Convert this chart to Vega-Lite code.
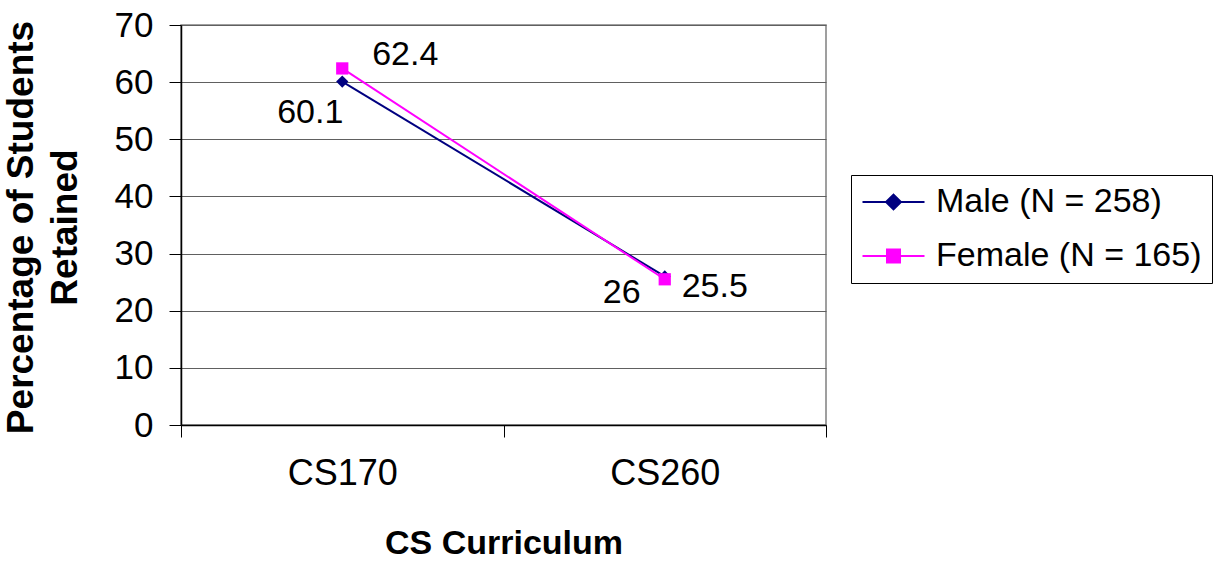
{
  "$schema": "https://vega.github.io/schema/vega-lite/v6.json",
  "width": 645,
  "height": 400,
  "autosize": {"type": "none"},
  "padding": {"left": 181, "top": 25, "right": 391, "bottom": 136},
  "background": "white",
  "config": {
    "font": "Liberation Sans",
    "view": {"stroke": "#808080", "strokeWidth": 1.5}
  },
  "data": {
    "values": [
      {"course": "CS170", "group": "Male (N = 258)", "pct": 60.1},
      {"course": "CS260", "group": "Male (N = 258)", "pct": 26},
      {"course": "CS170", "group": "Female (N = 165)", "pct": 62.4},
      {"course": "CS260", "group": "Female (N = 165)", "pct": 25.5}
    ]
  },
  "encoding": {
    "x": {
      "field": "course",
      "type": "nominal",
      "scale": {"type": "band", "paddingInner": 0, "paddingOuter": 0},
      "axis": {
        "title": "CS Curriculum",
        "titleFontSize": 34,
        "titleFontWeight": "bold",
        "titleColor": "black",
        "titleBaseline": "alphabetic",
        "titleY": 128,
        "labelFontSize": 36,
        "labelColor": "black",
        "labelAngle": 0,
        "labelPadding": 19,
        "tickBand": "extent",
        "tickSize": 12,
        "tickColor": "black",
        "domainColor": "black",
        "domainWidth": 1.5,
        "grid": false
      }
    },
    "y": {
      "field": "pct",
      "type": "quantitative",
      "scale": {"domain": [0, 70], "nice": false, "zero": true},
      "axis": {
        "values": [0, 10, 20, 30, 40, 50, 60, 70],
        "title": ["Percentage of Students", "Retained"],
        "titleFontSize": 37,
        "titleFontWeight": "bold",
        "titleColor": "black",
        "titleLineHeight": 44,
        "titleAngle": -90,
        "titleBaseline": "top",
        "titleAlign": "center",
        "titleX": -178,
        "titleY": 202,
        "labelFontSize": 35,
        "labelColor": "black",
        "labelPadding": 16,
        "tickSize": 12,
        "tickColor": "black",
        "domainColor": "black",
        "domainWidth": 1.5,
        "grid": true,
        "gridColor": "#606060",
        "gridWidth": 1.2
      }
    }
  },
  "layer": [
    {
      "mark": {"type": "line", "strokeWidth": 2},
      "encoding": {
        "color": {
          "field": "group",
          "type": "nominal",
          "sort": ["Male (N = 258)", "Female (N = 165)"],
          "scale": {"domain": ["Male (N = 258)", "Female (N = 165)"], "range": ["#000080", "#FF00FF"]},
          "legend": {
            "title": null,
            "orient": "none",
            "legendX": 670,
            "legendY": 150,
            "strokeColor": "black",
            "fillColor": "white",
            "padding": 10,
            "labelFontSize": 34,
            "labelFont": "Liberation Sans",
            "labelColor": "black",
            "labelLimit": 500,
            "labelOffset": 41,
            "rowPadding": 20,
            "symbolSize": 961,
            "symbolStrokeWidth": 2,
            "symbolType": "M-1,0H3",
            "encode": {
              "symbols": {
                "update": {
                  "shape": {"signal": "datum.value === 'Male (N = 258)' ? 'M-1,0H3M0.52,0L1,-0.48L1.48,0L1,0.48Z' : 'M-1,0H3M0.58,-0.42H1.42V0.42H0.58Z'"},
                  "fill": {"signal": "datum.value === 'Male (N = 258)' ? '#000080' : '#FF00FF'"},
                  "stroke": {"signal": "datum.value === 'Male (N = 258)' ? '#000080' : '#FF00FF'"},
                  "opacity": {"value": 1},
                  "fillOpacity": {"value": 1},
                  "strokeWidth": {"value": 2}
                }
              }
            }
          }
        }
      }
    },
    {
      "transform": [{"filter": "datum.group === 'Male (N = 258)'"}],
      "mark": {"type": "point", "filled": true, "size": 150, "opacity": 1, "shape": "diamond"},
      "encoding": {
        "color": {"field": "group", "type": "nominal"}
      }
    },
    {
      "transform": [{"filter": "datum.group === 'Female (N = 165)'"}],
      "mark": {"type": "point", "filled": true, "size": 150, "opacity": 1, "shape": "square"},
      "encoding": {
        "color": {"field": "group", "type": "nominal"}
      }
    },
    {
      "transform": [{"filter": "datum.group === 'Male (N = 258)' && datum.course === 'CS170'"}],
      "mark": {"type": "text", "dx": -32, "dy": 31, "fontSize": 34, "color": "black"},
      "encoding": {"text": {"field": "pct", "type": "nominal"}}
    },
    {
      "transform": [{"filter": "datum.group === 'Male (N = 258)' && datum.course === 'CS260'"}],
      "mark": {"type": "text", "dx": -43, "dy": 17, "fontSize": 34, "color": "black"},
      "encoding": {"text": {"field": "pct", "type": "nominal"}}
    },
    {
      "transform": [{"filter": "datum.group === 'Female (N = 165)' && datum.course === 'CS170'"}],
      "mark": {"type": "text", "dx": 63, "dy": -13, "fontSize": 34, "color": "black"},
      "encoding": {"text": {"field": "pct", "type": "nominal"}}
    },
    {
      "transform": [{"filter": "datum.group === 'Female (N = 165)' && datum.course === 'CS260'"}],
      "mark": {"type": "text", "dx": 50, "dy": 8, "fontSize": 34, "color": "black"},
      "encoding": {"text": {"field": "pct", "type": "nominal"}}
    }
  ]
}
